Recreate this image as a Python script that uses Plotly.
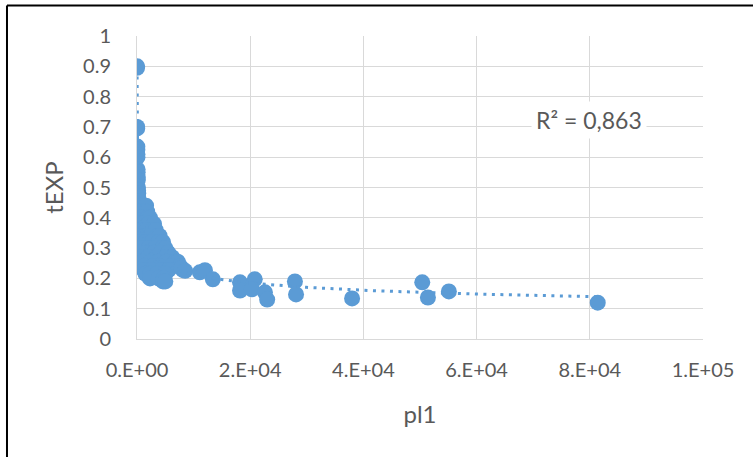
import numpy as np
import plotly.graph_objects as go

# ---- data ----
pl1 = [
    8, 12, 28, 35, 55, 60, 70, 80, 100, 110, 130, 150, 170, 190, 220, 250, 280, 300,
    350, 380, 420, 450, 500, 560, 600, 650, 700, 800, 900, 950, 1000, 1100,
    800, 1600, 500, 1200, 1800, 200, 900, 1900, 2300, 300, 1000, 2000, 3000,
    150, 800, 1700, 2800, 3300, 400, 1300, 2500, 3600, 4000,
    600, 1500, 2600, 3800, 4600, 250, 1000, 2000, 3200, 4500, 5000,
    500, 1700, 3000, 4200, 5500, 800, 2000, 3400, 5000, 6200,
    1100, 2400, 3800, 5200, 6800, 7200, 1300, 2800, 4000, 6000, 7600,
    1200, 2600, 4300, 5600, 8100, 1500, 2300, 3500, 5000, 2300, 3800, 4700,
    4600, 5000, 7800, 8500,
    11100, 12000, 13400, 18200, 18200, 20800, 20300, 22600, 23000,
    27900, 28100, 38000, 50400, 51400, 55100, 81400,
]
tEXP = [
    0.900, 0.895, 0.700, 0.695, 0.635, 0.625, 0.610, 0.600, 0.560, 0.550, 0.535, 0.525,
    0.500, 0.490, 0.480, 0.465, 0.455, 0.440, 0.430, 0.420, 0.410, 0.400, 0.390, 0.380,
    0.370, 0.360, 0.350, 0.345, 0.335, 0.320, 0.310, 0.300,
    0.44, 0.44, 0.42, 0.42, 0.42, 0.40, 0.40, 0.40, 0.40, 0.38, 0.38, 0.38, 0.38,
    0.36, 0.36, 0.36, 0.36, 0.36, 0.34, 0.34, 0.34, 0.34, 0.34,
    0.32, 0.32, 0.32, 0.32, 0.32, 0.30, 0.30, 0.30, 0.30, 0.30, 0.30,
    0.285, 0.285, 0.285, 0.285, 0.285, 0.27, 0.27, 0.27, 0.27, 0.27,
    0.255, 0.255, 0.255, 0.255, 0.255, 0.255, 0.24, 0.24, 0.24, 0.24, 0.24,
    0.228, 0.228, 0.228, 0.228, 0.228, 0.215, 0.215, 0.215, 0.215, 0.20, 0.20, 0.20,
    0.19, 0.19, 0.235, 0.225,
    0.220, 0.227, 0.197, 0.187, 0.160, 0.197, 0.164, 0.154, 0.130,
    0.190, 0.147, 0.134, 0.187, 0.137, 0.157, 0.120,
]
x_ticks = [0, 20000, 40000, 60000, 80000, 100000]
x_tick_labels = ["0.E+00", "2.E+04", "4.E+04", "6.E+04", "8.E+04", "1.E+05"]
y_ticks = [0, 0.1, 0.2, 0.3, 0.4, 0.5, 0.6, 0.7, 0.8, 0.9, 1]
y_tick_labels = ["0", "0.1", "0.2", "0.3", "0.4", "0.5", "0.6", "0.7", "0.8", "0.9", "1"]
r2_label = "R² = 0,863"

# ---- power trendline (log-log least squares) ----
lx = np.log(np.array(pl1, dtype=float))
ly = np.log(np.array(tEXP, dtype=float))
b, ln_a = np.polyfit(lx, ly, 1)
tx = np.geomspace(min(pl1), max(pl1), 600)
ty = np.exp(ln_a) * tx ** b

BLUE = "#5B9BD5"
GRID = "#D9D9D9"
TXT = "#595959"
FONT = "Lato"

fig = go.Figure()
fig.add_trace(go.Scatter(
    x=pl1, y=tEXP, mode="markers",
    marker=dict(color=BLUE, size=16, line=dict(width=0)),
    showlegend=False, hoverinfo="skip",
))
fig.add_trace(go.Scatter(
    x=tx, y=ty, mode="lines",
    line=dict(color=BLUE, width=3, dash="3px,5.5px"),
    showlegend=False, hoverinfo="skip",
))

fig.add_annotation(
    x=79770, y=0.7228, xref="x", yref="y", text=r2_label, showarrow=False,
    font=dict(family=FONT, size=23, color=TXT), bgcolor="white", borderpad=4,
)

# outer chart border (left and top edges visible)
fig.add_shape(type="line", xref="paper", yref="paper",
              x0=-0.2297, x1=-0.2297, y0=-0.5, y1=1.101,
              line=dict(color="black", width=2))
fig.add_shape(type="line", xref="paper", yref="paper",
              x0=-0.2297, x1=1.2, y0=1.101, y1=1.101,
              line=dict(color="black", width=2))

fig.update_layout(
    width=753, height=457,
    margin=dict(l=137, r=50, t=36, b=118),
    paper_bgcolor="white", plot_bgcolor="white",
    font=dict(family=FONT, color=TXT, size=20),
    xaxis=dict(
        range=[0, 100000], tickvals=x_ticks, ticktext=x_tick_labels,
        showgrid=True, gridcolor=GRID, gridwidth=1, zeroline=False,
        showline=True, linecolor=GRID, linewidth=1, mirror=False,
        ticks="outside", ticklen=13, tickcolor="rgba(0,0,0,0)",
        tickfont=dict(family=FONT, size=20, color=TXT),
        title=dict(text="pl1", font=dict(family=FONT, size=24, color=TXT), standoff=26),
    ),
    yaxis=dict(
        range=[0, 1], tickvals=y_ticks, ticktext=y_tick_labels,
        showgrid=True, gridcolor=GRID, gridwidth=1, zeroline=False,
        showline=True, linecolor=GRID, linewidth=1,
        ticks="outside", ticklen=21, tickcolor="rgba(0,0,0,0)",
        tickfont=dict(family=FONT, size=20, color=TXT),
        title=dict(text="tEXP", font=dict(family=FONT, size=24, color=TXT), standoff=12),
    ),
)

fig.write_html("out.html")
